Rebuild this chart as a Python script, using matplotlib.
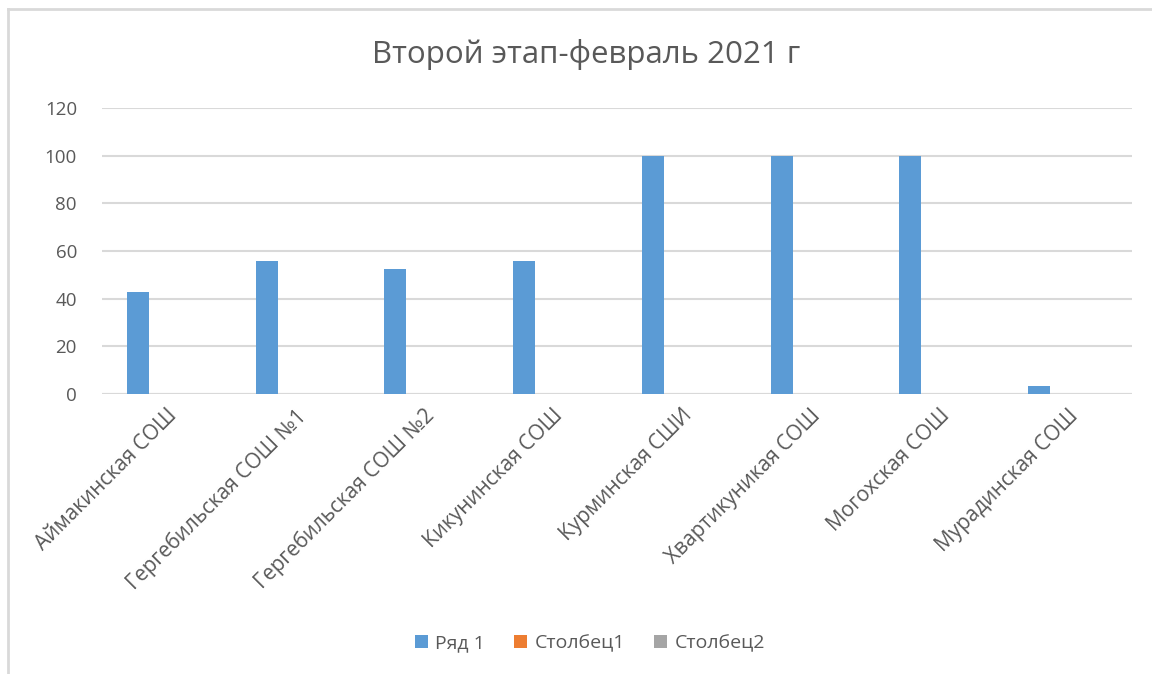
import matplotlib
matplotlib.use("Agg")
import matplotlib.pyplot as plt
from matplotlib.lines import Line2D
from matplotlib.patches import Patch
import numpy as np

plt.rcParams['font.family'] = ['Open Sans', 'DejaVu Sans']

title = "Второй этап-февраль 2021 г"
categories = ["Аймакинская СОШ", "Гергебильская СОШ №1", "Гергебильская СОШ №2",
              "Кикунинская СОШ", "Курминская СШИ", "Хвартикуникая СОШ",
              "Могохская СОШ", "Мурадинская СОШ"]
series_names = ["Ряд 1", "Столбец1", "Столбец2"]
row1 = [43, 56, 52.5, 55.6, 100, 100, 100, 3.5]
col1 = [0, 0, 0, 0, 0, 0, 0, 0]
col2 = [0, 0, 0, 0, 0, 0, 0, 0]
yticks = [0, 20, 40, 60, 80, 100, 120]

colors = ["#5B9BD5", "#ED7D31", "#A5A5A5"]
text_color = "#595959"
grid_color = "#D9D9D9"

fig = plt.figure(figsize=(11.52, 6.74), dpi=100)
ax = fig.add_axes([102/1152, 1-394/674, (1132-102)/1152, (394-108)/674])

x = np.arange(len(categories))
offsets = [-0.221, 0.0, 0.221]
width = 0.171
for vals, off, c in zip([row1, col1, col2], offsets, colors):
    ax.bar(x + off, vals, width=width, color=c, linewidth=0, zorder=3)

ax.set_xlim(-0.5, len(categories) - 0.5)
ax.set_ylim(0, 120)
ax.set_yticks(yticks)
ax.set_yticklabels([str(v) for v in yticks], fontsize=13.5, color=text_color)
ax.set_xticks(x)
ax.set_xticklabels(categories, rotation=45, ha='right', va='top',
                   rotation_mode='anchor', fontsize=15, color=text_color)
ax.tick_params(axis='both', length=0)
ax.tick_params(axis='y', pad=18)
ax.tick_params(axis='x', pad=8)
ax.yaxis.grid(True, color=grid_color, linewidth=1.5, zorder=0)
for s in ax.spines.values():
    s.set_visible(False)
ax.axhline(0, color=grid_color, linewidth=1.5, zorder=1)

fig.text(586/1152, 1-55/674, title, ha='center', va='center', fontsize=22.5,
         color=text_color)

handles = [Patch(facecolor=c, edgecolor='none') for c in colors]
fig.legend(handles, series_names, loc='center', bbox_to_anchor=(590/1152, 1-643/674),
           ncol=3, frameon=False, fontsize=14, labelcolor=text_color,
           handlelength=0.65, handleheight=0.65, handletextpad=0.4, columnspacing=1.5)

# chart border (top and left edges visible)
fig.add_artist(Line2D([8/1152, 8/1152], [0, 1-9/674], color=grid_color, linewidth=2,
                      transform=fig.transFigure))
fig.add_artist(Line2D([8/1152, 1], [1-9/674, 1-9/674], color=grid_color, linewidth=2,
                      transform=fig.transFigure))

fig.savefig("out.png", dpi=100)
